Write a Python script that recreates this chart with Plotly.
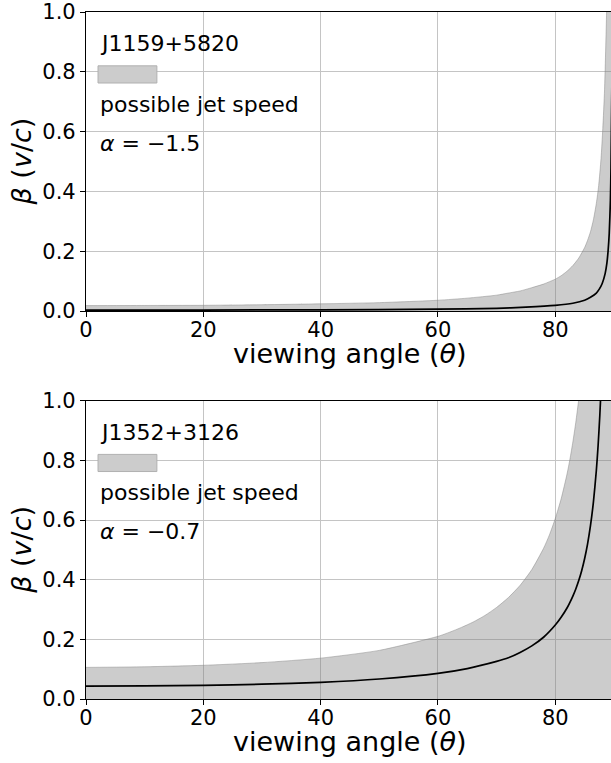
import plotly.graph_objects as go

# ---------------- data ----------------
theta_top_band = [0, 10, 20, 30, 40, 50, 60, 65, 70, 72, 74, 76, 78, 80, 81, 82, 83, 84, 85, 85.5,
                  86, 86.5, 87, 87.4, 87.8, 88.1, 88.4, 88.75, 89.0, 89.5]
upper_top = [0.018, 0.0185, 0.019, 0.021, 0.024, 0.028, 0.036, 0.043, 0.053, 0.060, 0.067, 0.078,
             0.090, 0.1065, 0.118, 0.133, 0.152, 0.177, 0.212, 0.236, 0.265, 0.305, 0.36, 0.42,
             0.51, 0.61, 0.74, 1.0, 1.26, 2.0]

theta_top_line = [0, 20, 40, 60, 70, 75, 80, 83, 85, 86, 87, 87.5, 88, 88.5, 88.8, 89, 89.2, 89.4,
                  89.5, 89.7]
line_top = [0.003, 0.0032, 0.004, 0.006, 0.009, 0.013, 0.019, 0.026, 0.036, 0.046, 0.06, 0.073,
            0.092, 0.125, 0.16, 0.20, 0.26, 0.37, 0.48, 0.85]

theta_bot_band = [0, 10, 20, 30, 40, 50, 60, 62, 64, 66, 68, 70, 72, 74, 76, 78, 79, 80, 81, 82,
                  82.5, 83, 83.5, 84, 84.5, 85, 89.5]
upper_bot = [0.106, 0.108, 0.113, 0.122, 0.137, 0.163, 0.21, 0.224, 0.24, 0.258, 0.28, 0.307, 0.34,
             0.381, 0.434, 0.505, 0.550, 0.605, 0.671, 0.754, 0.804, 0.862, 0.928, 1.005, 1.095,
             1.205, 2.0]

theta_bot_line = [0, 10, 20, 30, 40, 50, 60, 65, 70, 72, 74, 76, 78, 80, 81, 82, 82.5, 83, 83.5,
                  84, 84.5, 85, 85.5, 86, 86.5, 87, 87.3, 87.6, 87.8]
line_bot = [0.043, 0.0437, 0.0458, 0.0497, 0.056, 0.067, 0.086, 0.102, 0.126, 0.138, 0.156, 0.178,
            0.207, 0.248, 0.274, 0.305, 0.324, 0.345, 0.369, 0.397, 0.430, 0.470, 0.519, 0.581,
            0.660, 0.766, 0.849, 0.953, 1.037]

names = ["J1159+5820", "J1352+3126"]
alphas = ["\u22121.5", "\u22120.7"]
x_ticks = [0, 20, 40, 60, 80]
y_ticks = [0.0, 0.2, 0.4, 0.6, 0.8, 1.0]

FONT = "DejaVu Sans"
FILL = "rgba(128,128,128,0.4)"

fig = go.Figure()

panels = [
    (theta_top_band, upper_top, theta_top_line, line_top, "x", "y"),
    (theta_bot_band, upper_bot, theta_bot_line, line_bot, "x2", "y2"),
]
for tb, ub, tl, lb, xa, ya in panels:
    fig.add_trace(go.Scatter(x=tb, y=ub, mode="lines", fill="tozeroy", fillcolor=FILL,
                             line=dict(color="rgba(128,128,128,0.45)", width=1, shape="spline",
                                       smoothing=0.6),
                             xaxis=xa, yaxis=ya, showlegend=False, hoverinfo="skip"))
    fig.add_trace(go.Scatter(x=tl, y=lb, mode="lines",
                             line=dict(color="black", width=1.7, shape="spline", smoothing=0.6),
                             xaxis=xa, yaxis=ya, showlegend=False))

axis_common = dict(showline=True, linecolor="black", linewidth=1.2, ticks="outside", ticklen=5,
                   tickwidth=1.2, tickcolor="black", showgrid=True, gridcolor="#c4c4c4", gridwidth=1,
                   zeroline=False, tickfont=dict(family=FONT, size=21, color="black"))

top_dom = [1 - 299 / 687, 1.0]
bot_dom = [0.0, 298.3 / 687]

fig.update_layout(
    width=611, height=763,
    margin=dict(l=86, r=0, t=12, b=64),
    paper_bgcolor="white", plot_bgcolor="white",
    font=dict(family=FONT, color="black"),
    xaxis=dict(range=[0, 89.5], tickvals=x_ticks, domain=[0, 1], anchor="y", mirror=True,
               ticklabelstandoff=-5, **axis_common),
    yaxis=dict(range=[0, 1], tickvals=y_ticks, tickformat=".1f", domain=top_dom, anchor="x", **axis_common),
    xaxis2=dict(range=[0, 89.5], tickvals=x_ticks, domain=[0, 1], anchor="y2", mirror=True,
                ticklabelstandoff=-5, **axis_common),
    yaxis2=dict(range=[0, 1], tickvals=y_ticks, tickformat=".1f", domain=bot_dom, anchor="x2", **axis_common),
)

annotations = []
shapes = []
for i, (xa, ya) in enumerate([("x", "y"), ("x2", "y2")]):
    xd, yd = xa + " domain", ya + " domain"
    annotations += [
        dict(text=names[i], x=0.0229, y=0.895, xref=xd, yref=yd, xanchor="left", yanchor="middle",
             showarrow=False, font=dict(family=FONT, size=22, color="black")),
        dict(text="possible jet speed", x=0.0229, y=0.692, xref=xd, yref=yd, xanchor="left",
             yanchor="middle", showarrow=False, font=dict(family=FONT, size=22, color="black")),
        dict(text="<i>\u03b1</i> = " + alphas[i], x=0.0229, y=0.560, xref=xd, yref=yd, xanchor="left",
             yanchor="middle", showarrow=False, font=dict(family=FONT, size=22, color="black")),
        dict(text="viewing angle (<i>\u03b8</i>)", x=0.503, y=-0.142, xref=xd, yref=yd, xanchor="center",
             yanchor="middle", showarrow=False, font=dict(family=FONT, size=27, color="black")),
        dict(text="<i>\u03b2</i> (<i>v</i>/<i>c</i>)", x=-0.122, y=0.5, xref=xd, yref=yd, xanchor="center",
             yanchor="middle", textangle=-90, showarrow=False,
             font=dict(family=FONT, size=27, color="black")),
    ]
    shapes.append(dict(type="rect", xref=xd, yref=yd, x0=0.0229, x1=0.135, y0=0.7625, y1=0.82,
                       fillcolor="#cccccc", line=dict(color="#b0b0b0", width=1)))

fig.update_layout(annotations=annotations, shapes=shapes)

fig.write_html("out.html")
